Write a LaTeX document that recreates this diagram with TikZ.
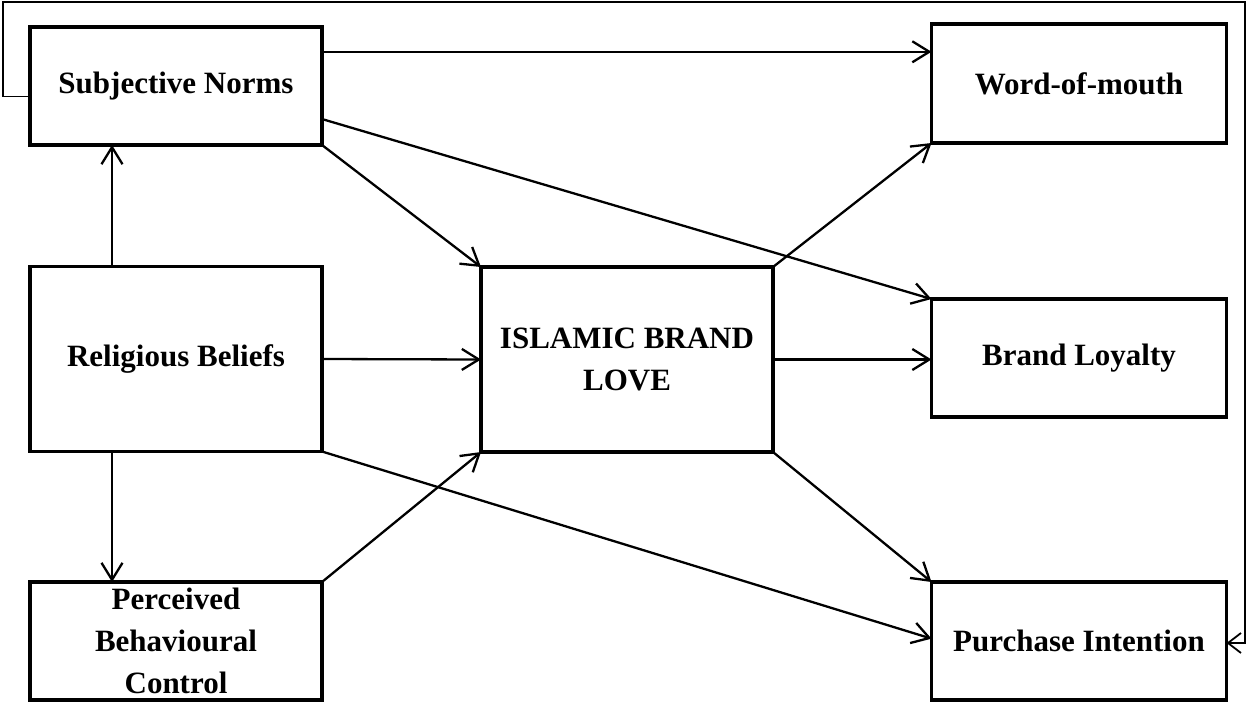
\documentclass[tikz,border=0pt]{standalone}
\usepackage{fontspec}
\setmainfont{Liberation Serif}
\usetikzlibrary{arrows.meta,calc}

\tikzset{
  box/.style={draw, line width=3.5pt, rectangle, inner sep=0pt, outer sep=0pt,
    align=center, font=\bfseries\fontsize{31}{42}\selectfont},
  link/.style={line width=2.3pt, -{Straight Barb[length=17pt,width=21pt,line width=2.3pt]}},
  loop/.style={line width=1.6pt, -{Straight Barb[length=13pt,width=20pt,line width=1.8pt]}}
}

\begin{document}
\begin{tikzpicture}[x=1pt,y=-1pt]
  \useasboundingbox (0,0) rectangle (1248,702);

  % constructs
  \node[box, minimum width=292pt, minimum height=118pt] (sn)  at (176,86)    {Subjective Norms};
  \node[box, minimum width=292pt, minimum height=185pt] (rb)  at (176,359)   {Religious Beliefs};
  \node[box, minimum width=292pt, minimum height=118pt] (pbc) at (176,641)   {Perceived\\Behavioural\\Control};
  \node[box, minimum width=292pt, minimum height=185pt] (ibl) at (627,359.5) {ISLAMIC BRAND\\LOVE};
  \node[box, minimum width=295pt, minimum height=119pt] (wom) at (1079,83.5) {Word-of-mouth};
  \node[box, minimum width=295pt, minimum height=118pt] (bl)  at (1079,358)  {Brand Loyalty};
  \node[box, minimum width=295pt, minimum height=118pt] (pi)  at (1079,641)  {Purchase Intention};

  % helper points on the box edges
  \coordinate (snR) at ($(sn.north east)!0.21!(sn.south east)$);
  \coordinate (snR2) at ($(sn.north east)!0.78!(sn.south east)$);
  \coordinate (piL) at ($(pi.north west)!0.48!(pi.south west)$);

  % paths
  \draw[link] (snR) -- (snR -| wom.west);
  \draw[link] (snR2) -- (bl.north west);
  \draw[link] (sn.south east) -- (ibl.north west);
  \draw[link] (rb.north -| 112,0) -- (sn.south -| 112,0);
  \draw[link] (rb.east) -- (ibl.west);
  \draw[link] (rb.south -| 112,0) -- (pbc.north -| 112,0);
  \draw[link] (rb.south east) -- (piL);
  \draw[link] (pbc.north east) -- (ibl.south west);
  \draw[link] (ibl.north east) -- (wom.south west);
  \draw[link] (ibl.east) -- (ibl.east -| bl.west);
  \draw[link] (ibl.south east) -- (pi.north west);

  % outer feedback loop
  \coordinate (snL) at ($(sn.north west)!0.59!(sn.south west)$);
  \draw[loop] (snL) -- (snL -| 3,0) |- (1245,2) |- (pi.east |- 0,643);
\end{tikzpicture}
\end{document}
